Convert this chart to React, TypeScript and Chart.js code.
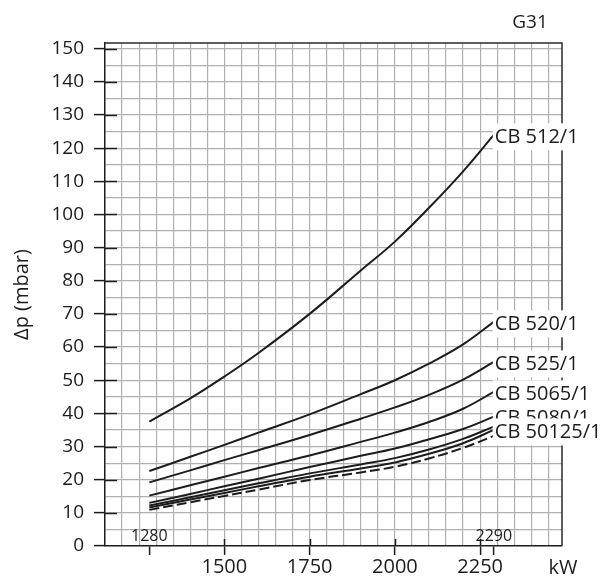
import React, { useEffect, useRef } from 'react';
import { Chart, registerables } from 'chart.js';

Chart.register(...registerables);

// ---- data ----
const kW = [1280, 1400, 1500, 1600, 1750, 1900, 2000, 2100, 2200, 2290];
const cb512 = [37.5, 44.5, 51.1, 58.2, 70.0, 83.1, 91.8, 102.0, 113.0, 124.0];
const cb520 = [22.6, 26.9, 30.5, 34.2, 39.7, 45.8, 50, 55, 60.8, 67.6];
const cb525 = [19.2, 22.8, 25.9, 28.9, 33.5, 38.4, 41.8, 45.6, 50.2, 55.5];
const cb5065 = [15.2, 18.3, 20.9, 23.5, 27.3, 31.4, 34.2, 37.4, 41.4, 46.5];
const cb5080 = [13.0, 15.7, 18.0, 20.3, 23.8, 27.2, 29.4, 32.2, 35.3, 39.0];
const cb50125a = [12.2, 14.7, 16.8, 18.9, 21.9, 24.6, 26.5, 29.1, 32.3, 36.0];
const cb50125b = [11.6, 14.0, 16.0, 18.0, 20.9, 23.4, 25.2, 27.8, 31.0, 35.0];
const dashedSeries = [10.9, 13.2, 15.1, 17.0, 19.9, 22.2, 23.9, 26.4, 29.6, 33.2];

const curveLabels = ['CB 512/1', 'CB 520/1', 'CB 525/1', 'CB 5065/1', 'CB 5080/1', '', 'CB 50125/1', ''];

const xMin = 1150;
const xMax = 2490;
const xGrid: number[] = [];
for (let v = 1150; v <= 2450; v += 50) xGrid.push(v);
const xMajor = [1500, 1750, 2000, 2250];
const xMarks = [1280, 2290];
const yMin = 0;
const yMax = 151.7;
const yGrid: number[] = [];
for (let v = 0; v <= 150; v += 5) yGrid.push(v);

const chartTitle = 'G31';
const xUnit = 'kW';
const yTitle = 'Δp (mbar)';

const FONT = '"Open Sans", "DejaVu Sans", sans-serif';
const INK = '#1c1c1c';
const GRID = '#b0b0b0';

const decor = {
  id: 'decor',
  afterDatasetsDraw(chart: any) {
    const { ctx, chartArea: a, scales } = chart;
    const x = scales.x;
    const y = scales.y;
    ctx.save();
    // frame top & right
    ctx.strokeStyle = '#2a2a2a';
    ctx.lineWidth = 1.5;
    ctx.beginPath();
    ctx.moveTo(a.left, a.top);
    ctx.lineTo(a.right, a.top);
    ctx.lineTo(a.right, a.bottom);
    ctx.stroke();
    // inner tick marks
    ctx.strokeStyle = INK;
    ctx.lineWidth = 1.5;
    yGrid.forEach((v) => {
      if (v % 10 !== 0 || v === 0) return;
      const py = Math.round(y.getPixelForValue(v)) + 0.5;
      ctx.beginPath();
      ctx.moveTo(a.left, py);
      ctx.lineTo(a.left + 12, py);
      ctx.stroke();
    });
    xMajor.forEach((v) => {
      const px = Math.round(x.getPixelForValue(v)) + 0.5;
      ctx.beginPath();
      ctx.moveTo(px, a.bottom);
      ctx.lineTo(px, a.bottom - 7);
      ctx.stroke();
    });
    // curve labels
    ctx.font = '20px ' + FONT;
    ctx.textBaseline = 'middle';
    ctx.textAlign = 'left';
    chart.data.datasets.forEach((ds: any, i: number) => {
      const lab = curveLabels[i];
      if (!lab) return;
      const last = ds.data[ds.data.length - 1];
      const px = x.getPixelForValue(last.x);
      const py = y.getPixelForValue(last.y) + 2;
      ctx.fillStyle = '#ffffff';
      ctx.fillRect(px - 1, py - 13.5, chart.width - px + 1, 27);
      ctx.fillStyle = INK;
      ctx.fillText(lab, px + 1, py);
    });
    // marker labels inside plot
    ctx.font = '16px ' + FONT;
    ctx.textAlign = 'center';
    xMarks.forEach((v) => {
      ctx.fillText(String(v), x.getPixelForValue(v), a.bottom - 10);
    });
    // title and unit
    ctx.font = '19px ' + FONT;
    ctx.fillText(chartTitle, a.right - 32, a.top - 20);
    ctx.font = '20px ' + FONT;
    ctx.fillText(xUnit, a.right + 1, a.bottom + 22);
    ctx.restore();
  },
};

export default function App() {
  const ref = useRef<HTMLCanvasElement | null>(null);
  useEffect(() => {
    if (!ref.current) return;
    const mk = (d: number[]) => kW.map((v, i) => ({ x: v, y: d[i] }));
    const base = {
      borderColor: INK,
      borderWidth: 2,
      pointRadius: 0,
      fill: false,
      tension: 0.4,
    };
    const chart = new Chart(ref.current, {
      type: 'line',
      data: {
        datasets: [
          { ...base, label: 'CB 512/1', data: mk(cb512) },
          { ...base, label: 'CB 520/1', data: mk(cb520) },
          { ...base, label: 'CB 525/1', data: mk(cb525) },
          { ...base, label: 'CB 5065/1', data: mk(cb5065) },
          { ...base, label: 'CB 5080/1', data: mk(cb5080) },
          { ...base, label: 'CB 50125/1 a', data: mk(cb50125a) },
          { ...base, label: 'CB 50125/1', data: mk(cb50125b) },
          { ...base, label: 'dashed', data: mk(dashedSeries), borderDash: [10, 4] },
        ],
      },
      options: {
        responsive: false,
        animation: false,
        events: [],
        layout: { padding: { top: 43, right: 39, left: 0, bottom: 0 } },
        plugins: { legend: { display: false }, tooltip: { enabled: false } },
        scales: {
          x: {
            type: 'linear',
            min: xMin,
            max: xMax,
            afterBuildTicks: (s: any) => {
              s.ticks = [...xGrid, ...xMarks].sort((p, q) => p - q).map((v) => ({ value: v }));
            },
            afterFit: (s: any) => {
              s.height = 30;
            },
            border: { color: INK, width: 1.5 },
            grid: {
              color: (c: any) =>
                c.tick && (xMarks.includes(c.tick.value) || c.tick.value === xMin) ? 'rgba(0,0,0,0)' : GRID,
              lineWidth: 1.2,
              tickLength: 9,
              tickColor: (c: any) =>
                c.tick && (xMajor.includes(c.tick.value) || xMarks.includes(c.tick.value)) ? INK : 'rgba(0,0,0,0)',
              tickWidth: 1.5,
            },
            ticks: {
              autoSkip: false,
              maxRotation: 0,
              minRotation: 0,
              padding: 0,
              color: INK,
              font: { family: FONT, size: 20 },
              callback: (v: any) => (xMajor.includes(Number(v)) ? String(v) : ''),
            },
          },
          y: {
            type: 'linear',
            min: yMin,
            max: yMax,
            afterBuildTicks: (s: any) => {
              s.ticks = yGrid.map((v) => ({ value: v }));
            },
            afterFit: (s: any) => {
              s.width = 105;
            },
            border: { color: INK, width: 1.5 },
            grid: {
              color: (c: any) => (c.tick && c.tick.value === 0 ? 'rgba(0,0,0,0)' : GRID),
              lineWidth: 1.2,
              tickLength: 11,
              tickColor: (c: any) => (c.tick && c.tick.value % 10 === 0 ? INK : 'rgba(0,0,0,0)'),
              tickWidth: 1.5,
            },
            ticks: {
              autoSkip: false,
              padding: 10,
              color: INK,
              font: { family: FONT, size: 19 },
              callback: (v: any) => (Number(v) % 10 === 0 ? String(v) : ''),
            },
            title: {
              display: true,
              text: yTitle,
              color: INK,
              font: { family: FONT, size: 20 },
              padding: { top: 10, bottom: 0 },
            },
          },
        },
      },
      plugins: [decor],
    });
    return () => chart.destroy();
  }, []);
  return (
    <div style={{ position: 'fixed', left: 0, top: 0, width: 601, height: 576, background: '#fff' }}>
      <canvas ref={ref} width={601} height={576} />
    </div>
  );
}
